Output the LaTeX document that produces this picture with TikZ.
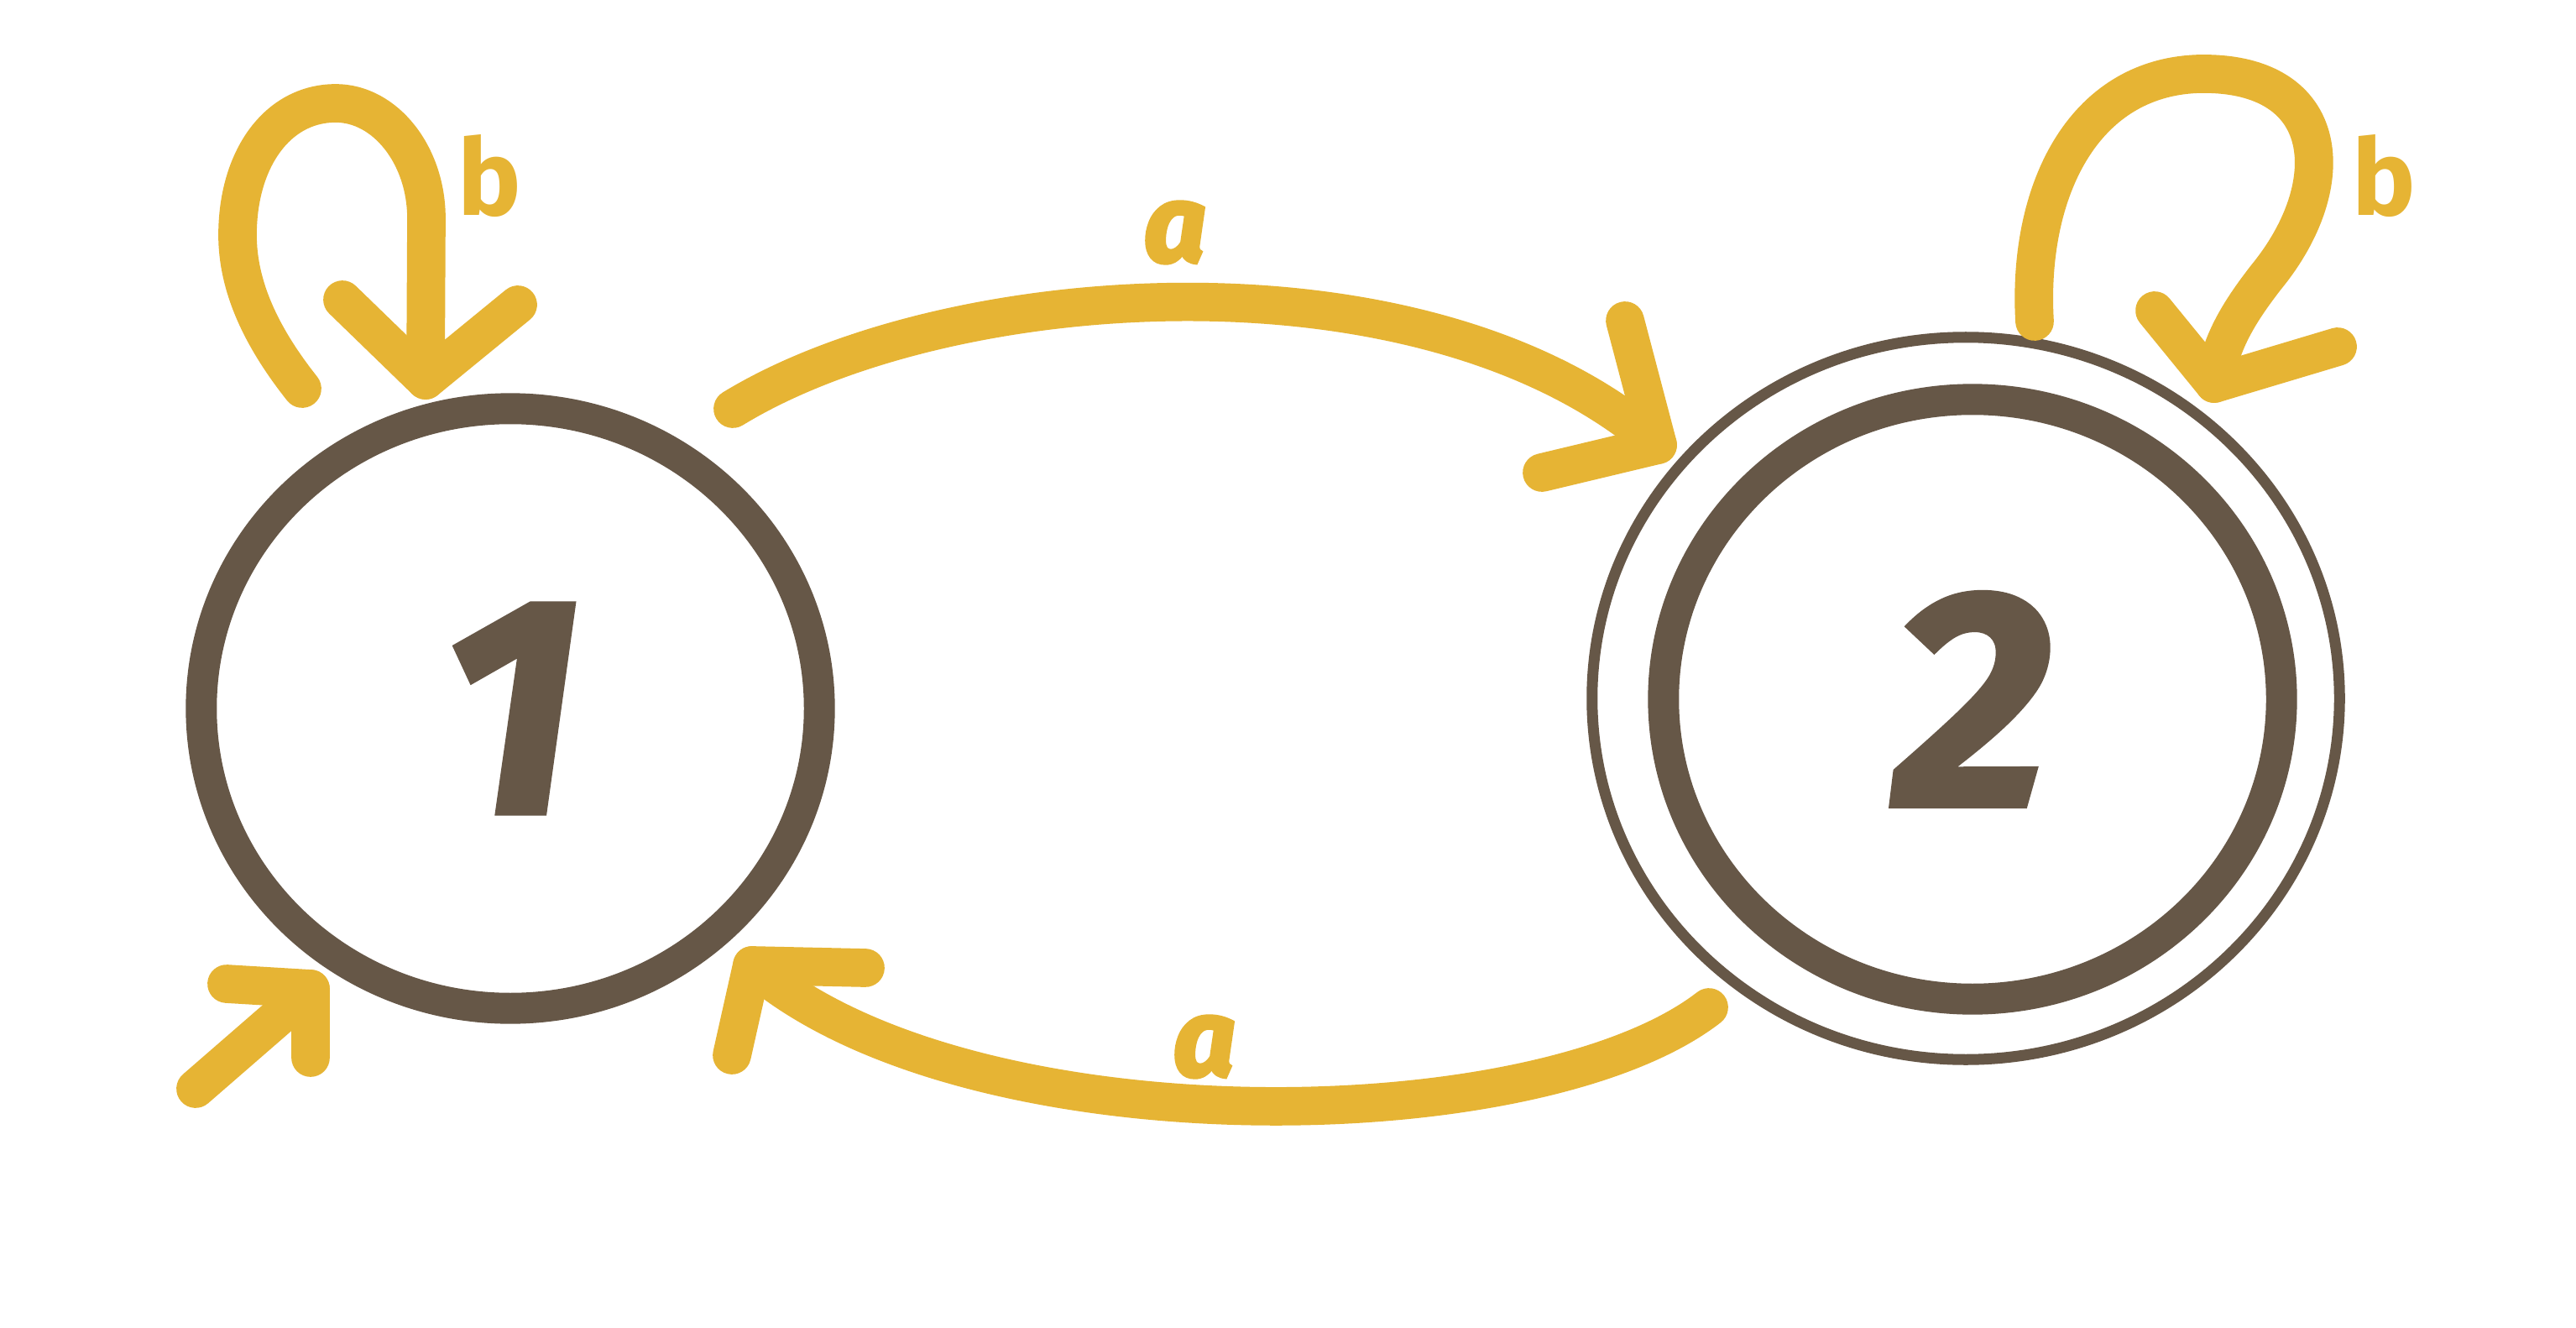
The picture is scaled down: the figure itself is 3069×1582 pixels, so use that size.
\documentclass[tikz,border=0pt]{standalone}
\usepackage{fontspec}
\setmainfont{Fira Sans}
\newfontfamily\heavyfont{Fira Sans}[FakeBold=1.5]
\newfontfamily\labelfont{Fira Sans}[FakeBold=3]
\usetikzlibrary{shapes.geometric}
\definecolor{brn}{HTML}{665747}
\definecolor{ylw}{HTML}{E6B434}
\begin{document}
\begin{tikzpicture}[x=0.01cm,y=-0.01cm,
  state/.style={ellipse, draw=brn, line width=10.5pt, minimum width=7.36cm, minimum height=7.14cm, inner sep=0pt, text=brn, font=\fontsize{105}{110}\selectfont\heavyfont\bfseries\itshape},
  ring/.style={draw=brn, line width=3.7pt},
  yarrow/.style={draw=ylw, line width=13pt, line cap=round, line join=round},
  alab/.style={text=ylw, inner sep=0pt, font=\fontsize{37}{40}\selectfont\labelfont\bfseries\itshape},
  blab/.style={text=ylw, inner sep=0pt, font=\fontsize{36}{40}\selectfont\bfseries}]
\useasboundingbox (0,0) rectangle (3069,1582);
\fill[white] (0,0) rectangle (3069,1582);

% states
\node[state] (q1) at (608,844) {1};
\node[state] (q2) at (2350,833) {2};
\draw[ring] (2342,832) ellipse [x radius=4.45cm, y radius=4.30cm];

% top arrow 1 -> 2
\coordinate (t0) at (873,487);
\coordinate (t1) at (1975,530);
\coordinate (tb1) at (1936,382);
\coordinate (tb2) at (1837,563);
\draw[yarrow] (t0) .. controls (1130,330) and (1700,290) .. (t1);
\draw[yarrow] (tb1) -- (t1) -- (tb2);
\node[alab] (la1) at (1400,277) {a};

% bottom arrow 2 -> 1
\coordinate (u0) at (2036,1200);
\coordinate (u1) at (896,1150);
\coordinate (ub1) at (1031,1153);
\coordinate (ub2) at (872,1257);
\draw[yarrow] (u0) .. controls (1830,1360) and (1150,1370) .. (u1);
\draw[yarrow] (ub1) -- (u1) -- (ub2);
\node[alab] (la2) at (1435,1247) {a};

% loop on 1
\coordinate (l0) at (360,463);
\coordinate (ll) at (283,280);
\coordinate (lm) at (400,123);
\coordinate (lk) at (508,260);
\coordinate (l1) at (507,453);
\coordinate (lb1) at (408,357);
\coordinate (lb2) at (617,363);
\draw[yarrow] (l0) .. controls (310,400) and (283,340) .. (ll) .. controls (283,190) and (330,123) .. (lm) .. controls (459,123) and (508,185) .. (lk) -- (l1);
\draw[yarrow] (lb1) -- (l1) -- (lb2);
\node[blab] (lbl1) at (583,210) {b};

% loop on 2
\coordinate (m0) at (2424,383);
\coordinate (mm) at (2620,88);
\coordinate (mk) at (2700,330);
\coordinate (m1) at (2638,457);
\coordinate (mb1) at (2567,370);
\coordinate (mb2) at (2785,413);
\draw[yarrow] (m0) .. controls (2415,230) and (2480,92) .. (mm) .. controls (2780,85) and (2790,220) .. (mk) .. controls (2665,375) and (2645,410) .. (m1);
\draw[yarrow] (mb1) -- (m1) -- (mb2);
\node[blab] (lbl2) at (2840,210) {b};

% initial arrow
\coordinate (i0) at (233,1297);
\coordinate (i1) at (370,1178);
\coordinate (ib1) at (270,1172);
\coordinate (ib2) at (370,1260);
\draw[yarrow] (i0) -- (i1);
\draw[yarrow] (ib1) -- (i1) -- (ib2);
\end{tikzpicture}
\end{document}
